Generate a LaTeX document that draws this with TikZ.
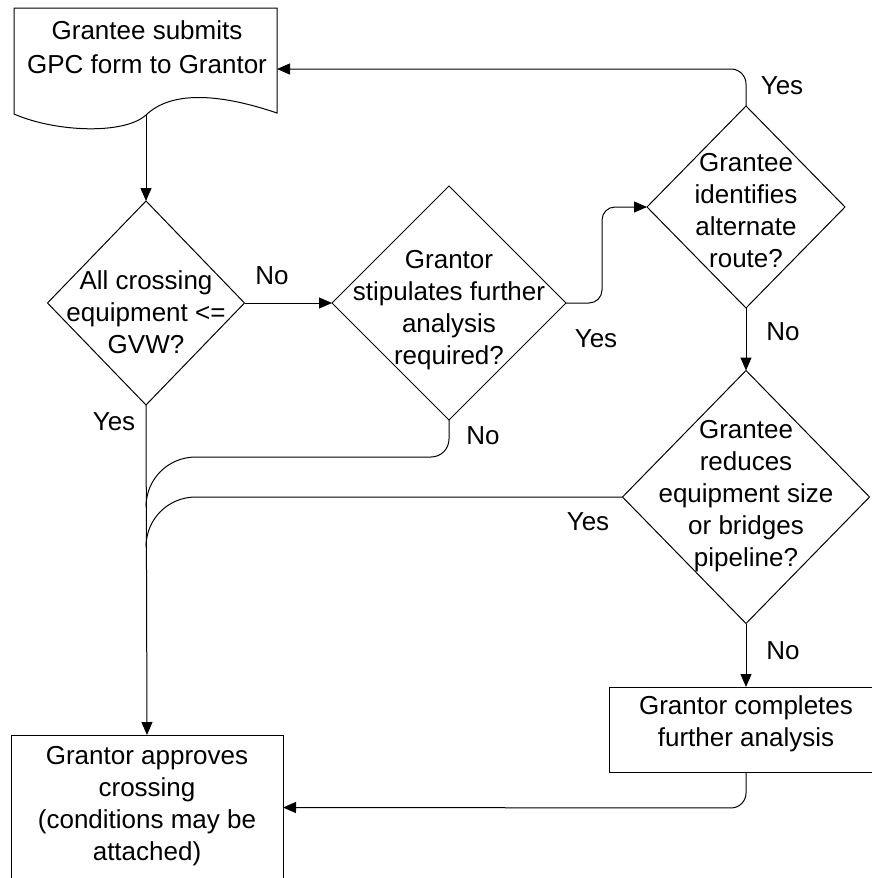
\documentclass[tikz,border=0pt]{standalone}
\usepackage{fontspec}
\setmainfont{Liberation Sans}
\usetikzlibrary{shapes.geometric,arrows.meta}
\begin{document}
\begin{tikzpicture}[x=1pt,y=-1pt,line width=1pt,
  boxshape/.style={draw,rectangle,inner sep=0pt,outer sep=0pt},
  dia/.style={draw,diamond,inner sep=0pt,outer sep=0pt},
  txt/.style={align=center,inner sep=0pt,font=\fontsize{26pt}{32pt}\selectfont},
  lbl/.style={inner sep=0pt,font=\fontsize{26pt}{32pt}\selectfont},
  conn/.style={draw,-{Triangle[length=13pt,width=11pt]}},
  link/.style={draw}]
\useasboundingbox (0,0) rectangle (872,878);
\clip (0,0) rectangle (872,878);
% document shape
\draw (14,8) -- (277,8) -- (277,113) .. controls (215,92) and (170,92) .. (146,115)
      .. controls (124,135) and (55,132) .. (14,114) -- cycle;
\node[txt,font=\fontsize{26pt}{34pt}\selectfont] (doctext) at (147,47) {Grantee submits\\GPC form to Grantor};
\coordinate (docb) at (146,115);
\coordinate (docr) at (277,69);
% decisions
\node[dia,minimum width=197pt,minimum height=204pt] (d1) at (146,303) {};
\node[txt] (d1t) at (146,312) {All crossing\\equipment <=\\GVW?};
\node[dia,minimum width=234pt,minimum height=234pt] (d2) at (449,303) {};
\node[txt] (d2t) at (449,310) {Grantor\\stipulates further\\analysis\\required?};
\node[dia,minimum width=198pt,minimum height=202pt] (d3) at (746,207) {};
\node[txt] (d3t) at (746,211) {Grantee\\identifies\\alternate\\route?};
\node[dia,minimum width=247pt,minimum height=253pt] (d4) at (746,497) {};
\node[txt] (d4t) at (746,496) {Grantee\\reduces\\equipment size\\or bridges\\pipeline?};
% process boxes
\node[boxshape,minimum width=274pt,minimum height=85pt] (r1) at (746,729.5) {};
\node[txt] (r1t) at (746,724) {Grantor completes\\further analysis};
\node[boxshape,minimum width=272pt,minimum height=145pt] (box) at (147,807.5) {};
\node[txt] (boxt) at (147,806.5) {Grantor approves\\crossing\\(conditions may be\\attached)};
% labels
\node[lbl] (l1) at (272,276) {No};
\node[lbl] (l2) at (114,421.5) {Yes};
\node[lbl] (l3) at (596,339) {Yes};
\node[lbl] (l4) at (483,436) {No};
\node[lbl] (l5) at (782,86) {Yes};
\node[lbl] (l6) at (783,332) {No};
\node[lbl] (l7) at (588,522) {Yes};
\node[lbl] (l8) at (783,651) {No};
% merge points on the trunk
\coordinate (m1) at (146,507);
\coordinate (m2) at (146,547);
% connectors
\draw[conn] (docb) -- (d1.north);
\draw[conn] (d1.east) -- (d2.west);
\draw[conn,rounded corners=13pt] (d2.east) -- (602,303) -- (602,207) -- (d3.west);
\draw[conn,rounded corners=15pt] (d3.north) -- (746,69) -- (docr);
\draw[conn] (d1.south) -- (box.north);
\draw[link] (d2.south) -- (449,439) .. controls (449,449) and (441,457) .. (431,457) -- (196,457)
      .. controls (168,457) and (146,479) .. (m1);
\draw[link] (d4.west) -- (196,497) .. controls (168,497) and (146,519) .. (m2);
\draw[conn] (d3.south) -- (d4.north);
\draw[conn] (d4.south) -- (r1.north);
\draw[conn,rounded corners=15pt] (r1.south) -- (746,808) -- (box.east);
\end{tikzpicture}
\end{document}
